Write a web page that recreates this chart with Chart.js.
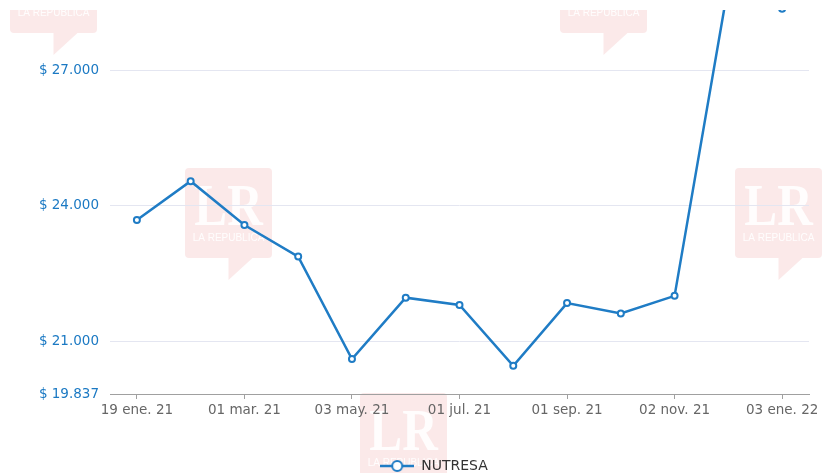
<!DOCTYPE html>
<html><head><meta charset="utf-8">
<style>html,body{margin:0;padding:0;background:#fff;overflow:hidden}#wrap{position:relative;width:822px;height:473px}</style>
<script src="https://cdn.jsdelivr.net/npm/chart.js@4.4.1/dist/chart.umd.min.js"></script>
</head><body><div id="wrap"><canvas id="c" width="822" height="473"></canvas></div>
<script>
// ---- data ----
const categories = ['19 ene. 21','01 feb. 21','01 mar. 21','01 abr. 21','03 may. 21','01 jun. 21','01 jul. 21','02 ago. 21','01 sep. 21','01 oct. 21','02 nov. 21','01 dic. 21','03 ene. 22'];
const seriesName = 'NUTRESA';
const nutresa = [23690, 24550, 23580, 22880, 20610, 21970, 21810, 20460, 21850, 21620, 22010, 28890, 28370];
const yTicks = [19837, 21000, 24000, 27000];
const yMin = 19837;
const yMax = 28340;

// ---- styles ----
const FONT = "'DejaVu Sans', sans-serif";
const LINE = '#1f7cc5';
const BLUE = '#1b79c3';
const AXIS = '#a0a0a0';
const GRID = '#e4e6f1';

function fmt(v){ return '$ ' + String(Math.round(v)).replace(/\B(?=(\d{3})+(?!\d))/g, '.'); }

// legend icon: line through a hollow circle
const icon = document.createElement('canvas');
icon.width = 34; icon.height = 14;
(function(){
  const g = icon.getContext('2d');
  g.strokeStyle = LINE; g.lineWidth = 2.5;
  g.beginPath(); g.moveTo(0,7); g.lineTo(34,7); g.stroke();
  g.beginPath(); g.arc(17,7,5,0,Math.PI*2); g.fillStyle='#fff'; g.fill(); g.lineWidth=2; g.stroke();
})();

const watermark = {
  id:'watermark',
  beforeDraw(chart){
    const ctx = chart.ctx;
    ctx.save();
    ctx.beginPath(); ctx.rect(0,10,chart.width,chart.height-10); ctx.clip();
    const tiles = [[53.5,-57],[603.5,-57],[228.5,168],[778.5,168],[403.5,393],[-146.5,393]];
    tiles.forEach(([cx,top])=>{
      ctx.fillStyle = 'rgba(238,170,170,0.26)';
      const l = cx-43.5, w = 87, h = 90, r = 4;
      ctx.beginPath();
      ctx.moveTo(l+r, top); ctx.lineTo(l+w-r, top); ctx.quadraticCurveTo(l+w, top, l+w, top+r);
      ctx.lineTo(l+w, top+h-r); ctx.quadraticCurveTo(l+w, top+h, l+w-r, top+h);
      ctx.lineTo(cx+24, top+h); ctx.lineTo(cx, top+h+22); ctx.lineTo(cx, top+h);
      ctx.lineTo(l+r, top+h); ctx.quadraticCurveTo(l, top+h, l, top+h-r);
      ctx.lineTo(l, top+r); ctx.quadraticCurveTo(l, top, l+r, top);
      ctx.closePath(); ctx.fill();
      ctx.fillStyle = 'rgba(255,255,255,0.92)';
      ctx.textAlign = 'center'; ctx.textBaseline = 'alphabetic';
      ctx.save(); ctx.translate(cx, top+57); ctx.scale(0.82,1);
      ctx.font = "bold 60px 'Liberation Serif', serif";
      ctx.fillText('LR', 0, 0); ctx.restore();
      ctx.font = "10px 'Liberation Sans', sans-serif";
      ctx.fillText('LA REPUBLICA', cx, top+73);
    });
    ctx.restore();
  }
};

// moves the bottom legend down (smaller box) and right (centred on x = 434)
const legendShift = {
  id:'legendShift',
  beforeInit(chart){
    const lg = chart.legend;
    if (!lg) return;
    const origFit = lg.fit;
    lg.fit = function(){ origFit.call(this); this.height = Math.max(0, this.height - 10); };
    const origDraw = lg.draw;
    lg.draw = function(){
      const c = this.ctx; c.save();
      c.translate(434 - (this.left + this.right) / 2, 0);
      origDraw.apply(this, arguments);
      c.restore();
    };
  }
};

new Chart(document.getElementById('c'), {
  type:'line',
  data:{ labels: categories, datasets:[{
    label: seriesName, data: nutresa,
    borderColor: LINE, backgroundColor:'#fff', borderWidth:2.5,
    pointRadius:3, pointBorderWidth:2, pointBackgroundColor:'#fff', pointBorderColor:LINE,
    pointHoverRadius:3, tension:0, fill:false
  }]},
  options:{
    responsive:false, animation:false, devicePixelRatio:1,
    layout:{ padding:{ top:10, right:13, left:0, bottom:0 } },
    plugins:{
      legend:{ position:'bottom', labels:{ usePointStyle:true, pointStyle:icon, pointStyleWidth:34, padding:6, color:'#333', font:{ family:FONT, size:14 } } },
      tooltip:{ enabled:false }
    },
    scales:{
      x:{
        offset:true,
        grid:{ display:true, drawOnChartArea:false, drawTicks:true, tickLength:5, tickColor:(c)=> (c.index%2===0 ? AXIS : 'rgba(0,0,0,0)') },
        border:{ display:true, color:AXIS, width:1 },
        ticks:{ autoSkip:false, maxRotation:0, minRotation:0, padding:3, color:'#666', font:{ family:FONT, size:13.5 },
          callback:function(v,i){ return i%2===0 ? categories[i] : ''; } },
        afterFit:(s)=>{ s.height = 473 - 394 - (s.chart.legend ? s.chart.legend.height : 0); }
      },
      y:{
        min:yMin, max:yMax,
        afterBuildTicks:(s)=>{ s.ticks = yTicks.map(v=>({value:v})); },
        grid:{ color:(c)=> (c.tick && c.tick.value===yMin ? 'rgba(0,0,0,0)' : GRID), drawTicks:false, lineWidth:1 },
        border:{ display:false },
        ticks:{ padding:11, color:BLUE, font:{ family:FONT, size:13.5 }, callback:(v)=>fmt(v) },
        afterFit:(s)=>{ s.width = 110; s.paddingTop = 0; s.paddingBottom = 0; }
      }
    }
  },
  plugins:[watermark, legendShift]
});
</script>
</body></html>
